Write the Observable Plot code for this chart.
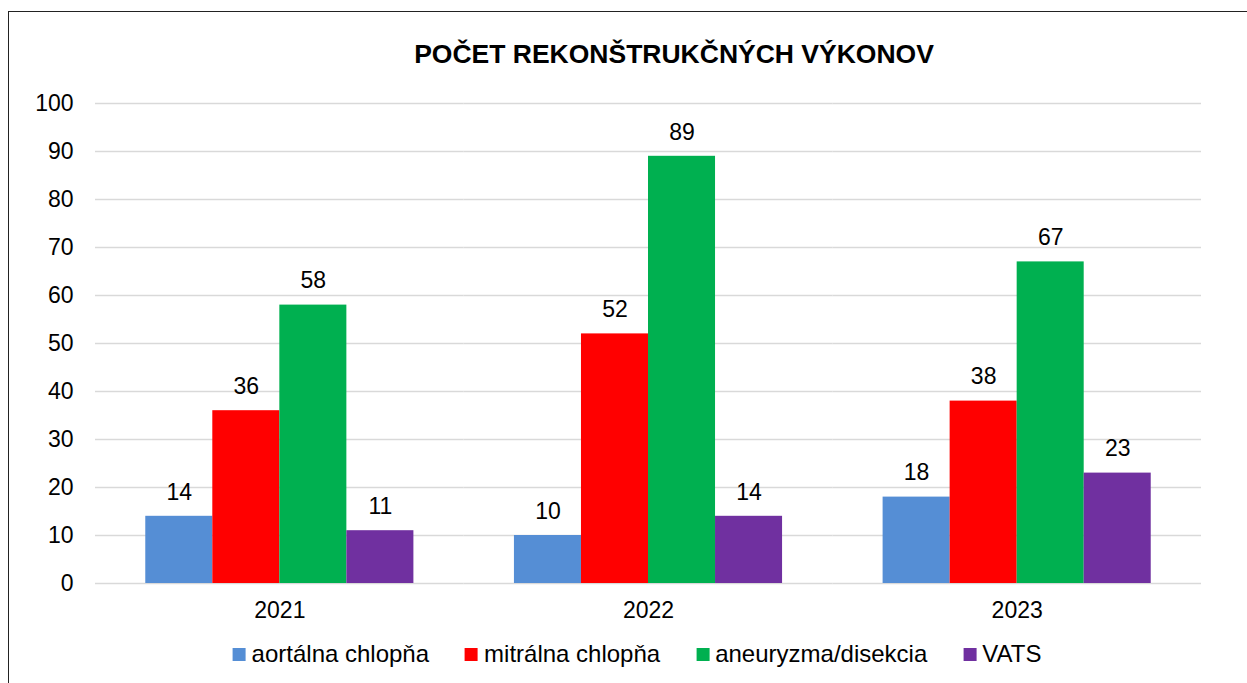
<!DOCTYPE html>
<html>
<head>
<meta charset="utf-8">
<script src="https://cdn.jsdelivr.net/npm/d3@7"></script>
<script src="https://cdn.jsdelivr.net/npm/@observablehq/plot@0.6"></script>
<style>
  html, body { margin: 0; padding: 0; background: #fff; overflow: hidden; }
  body { width: 1247px; height: 683px; position: relative; font-family: "Liberation Sans", Arial, sans-serif; color: #000; }
  #frame { position: absolute; left: 8px; top: 11px; width: 1300px; height: 740px; border: 1.5px solid #222; box-sizing: border-box; }
  #title { position: absolute; left: 674px; top: 39px; transform: translateX(-50%); font-weight: bold; font-size: 26.5px; white-space: nowrap; }
  #chart { position: absolute; left: 0; top: 80px; }
  #legend { position: absolute; left: 637px; top: 640px; transform: translateX(-50%); display: flex; font-size: 24px; white-space: nowrap; }
  .item { display: flex; align-items: center; margin: 0 18px; }
  .sw { width: 13px; height: 13px; margin-right: 6px; }
</style>
</head>
<body>
<div id="frame"></div>
<div id="title">POČET REKONŠTRUKČNÝCH VÝKONOV</div>
<div id="chart"></div>
<div id="legend"></div>
<script>
const years = ["2021", "2022", "2023"];
const series = ["aortálna chlopňa", "mitrálna chlopňa", "aneuryzma/disekcia", "VATS"];
const colors = ["#558ED5", "#FF0000", "#00B050", "#7030A0"];
const aortalna = [14, 10, 18];
const mitralna = [36, 52, 38];
const aneuryzma = [58, 89, 67];
const vats = [11, 14, 23];
const yTicks = [0, 10, 20, 30, 40, 50, 60, 70, 80, 90, 100];

const valuesBySeries = [aortalna, mitralna, aneuryzma, vats];
const data = [];
years.forEach((yr, i) => {
  series.forEach((s, j) => {
    data.push({year: yr, series: s, value: valuesBySeries[j][i]});
  });
});

const chart = Plot.plot({
  width: 1247,
  height: 560,
  marginLeft: 95,
  marginRight: 46,
  marginTop: 23,
  marginBottom: 57,
  style: {fontSize: "23px", fontFamily: "Liberation Sans, Arial, sans-serif", color: "#000", background: "transparent"},
  facet: {data: data, x: "year"},
  fx: {domain: years, padding: 0, round: false, axis: "bottom", label: null, tickSize: 0, tickPadding: 18},
  x: {domain: series, paddingInner: 0, paddingOuter: 0.75, round: false, axis: null},
  y: {domain: [0, 100], ticks: yTicks, tickSize: 0, tickPadding: 22, label: null, tickFormat: d => String(d)},
  color: {domain: series, range: colors},
  marks: [
    Plot.ruleY(yTicks, {stroke: "#d9d9d9", strokeWidth: 1.5}),
    Plot.barY(data, {x: "series", y: "value", fill: "series"}),
    Plot.text(data, {x: "series", y: "value", text: d => String(d.value), dy: -24, fill: "#000", fontSize: 23})
  ]
});
document.getElementById("chart").appendChild(chart);

const legend = document.getElementById("legend");
series.forEach((s, i) => {
  const item = document.createElement("div");
  item.className = "item";
  const sw = document.createElement("div");
  sw.className = "sw";
  sw.style.background = colors[i];
  const lab = document.createElement("span");
  lab.textContent = s;
  item.appendChild(sw);
  item.appendChild(lab);
  legend.appendChild(item);
});
</script>
</body>
</html>
